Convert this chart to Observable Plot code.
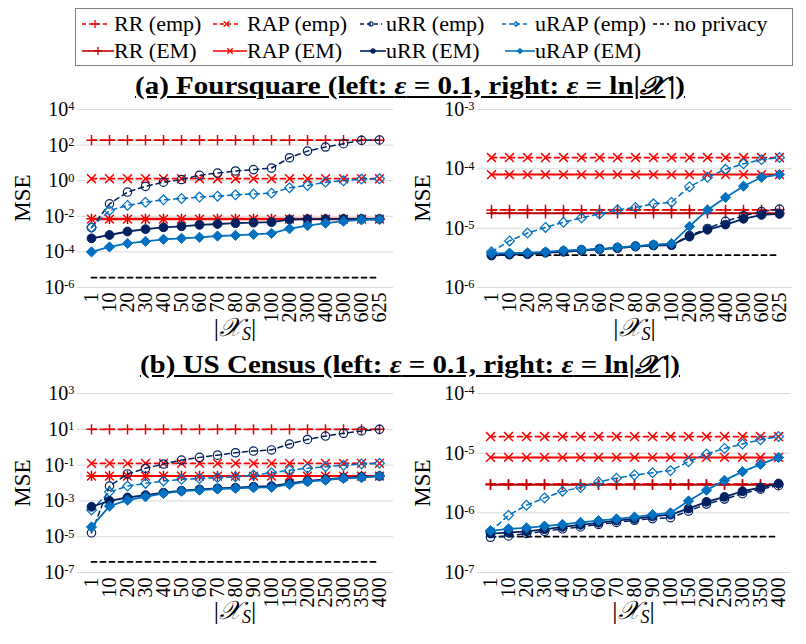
<!DOCTYPE html>
<html><head><meta charset="utf-8">
<script src="https://cdn.jsdelivr.net/npm/d3@7"></script>
<script src="https://cdn.jsdelivr.net/npm/@observablehq/plot@0.6"></script>
<style>
body{margin:0;background:#fff;}
#root{position:relative;width:806px;height:644px;overflow:hidden;font-family:"Liberation Serif","DejaVu Serif",serif;color:#000;background:#fff;}
.abs{position:absolute;}
.title{position:absolute;left:0;width:820px;text-align:center;font-weight:bold;font-size:25px;line-height:22px;text-decoration:underline;white-space:nowrap;transform:scaleX(1.16);transform-origin:410px 50%;}
.title i.X{margin-right:3px;}
.ylab{position:absolute;font-size:23px;line-height:24px;transform:translate(-50%,-50%) rotate(-90deg);white-space:nowrap;}
.xlab{position:absolute;font-size:26px;line-height:28px;transform:translate(-50%,-50%);white-space:nowrap;}
.xlab i{margin-right:1px;}
.xlab sub{font-size:18px;font-style:italic;vertical-align:-4px;}
.leg{position:absolute;font-size:22px;line-height:24px;white-space:nowrap;}
</style></head>
<body>
<div id="root"></div>
<script>
// ---------- data ----------
const catsA = ["1","10","20","30","40","50","60","70","80","90","100","200","300","400","500","600","625"];
const catsB = ["1","10","20","30","40","50","60","70","80","90","100","150","200","250","300","350","400"];
const seriesNames = ["RR (emp)","RAP (emp)","uRR (emp)","uRAP (emp)","no privacy","RR (EM)","RAP (EM)","uRR (EM)","uRAP (EM)"];

// (a) Foursquare, eps = 0.1
const fsLow_RR_emp   = [190,190,190,190,190,190,190,190,190,190,190,190,190,190,190,190,190];
const fsLow_RAP_emp  = [1.3,1.3,1.3,1.3,1.3,1.3,1.3,1.3,1.3,1.3,1.3,1.3,1.3,1.3,1.3,1.3,1.3];
const fsLow_uRR_emp  = [2.3e-3,0.05,0.23,0.48,0.83,1.17,2.0,2.7,3.5,4.2,5.1,19.5,46,78,120,186,195];
const fsLow_uRAP_emp = [2.4e-3,0.021,0.041,0.062,0.084,0.10,0.12,0.135,0.16,0.18,0.20,0.40,0.54,0.83,1.0,1.23,1.3];
const fsLow_noPriv   = [3.6e-6,3.6e-6,3.6e-6,3.6e-6,3.6e-6,3.6e-6,3.6e-6,3.6e-6,3.6e-6,3.6e-6,3.6e-6,3.6e-6,3.6e-6,3.6e-6,3.6e-6,3.6e-6,3.6e-6];
const fsLow_RR_EM    = [7.2e-3,7.2e-3,7.2e-3,7.2e-3,7.2e-3,7.2e-3,7.2e-3,7.2e-3,7.2e-3,7.2e-3,7.2e-3,7.2e-3,7.2e-3,7.2e-3,7.2e-3,7.2e-3,7.2e-3];
const fsLow_RAP_EM   = [6.9e-3,6.9e-3,6.9e-3,6.9e-3,6.9e-3,6.9e-3,6.9e-3,6.9e-3,6.9e-3,6.9e-3,6.9e-3,6.9e-3,6.9e-3,6.9e-3,6.9e-3,6.9e-3,6.9e-3];
const fsLow_uRR_EM   = [5.8e-4,8.9e-4,1.4e-3,1.9e-3,2.4e-3,2.75e-3,3.3e-3,3.7e-3,4.1e-3,4.4e-3,4.7e-3,6.6e-3,7.0e-3,7.0e-3,7.1e-3,7.1e-3,7.1e-3];
const fsLow_uRAP_EM  = [1.0e-4,1.9e-4,3.0e-4,3.9e-4,5.1e-4,5.8e-4,6.6e-4,7.8e-4,8.5e-4,9.7e-4,1.1e-3,2.0e-3,3.0e-3,4.1e-3,5.3e-3,6.3e-3,6.6e-3];

// (a) Foursquare, eps = ln|X|
const fsHigh_RR_emp   = [2.03e-5,2.03e-5,2.03e-5,2.03e-5,2.03e-5,2.03e-5,2.03e-5,2.03e-5,2.03e-5,2.03e-5,2.03e-5,2.03e-5,2.03e-5,2.03e-5,2.03e-5,2.03e-5,2.03e-5];
const fsHigh_RAP_emp  = [1.55e-4,1.55e-4,1.55e-4,1.55e-4,1.55e-4,1.55e-4,1.55e-4,1.55e-4,1.55e-4,1.55e-4,1.55e-4,1.55e-4,1.55e-4,1.55e-4,1.55e-4,1.55e-4,1.55e-4];
const fsHigh_uRR_emp  = [3.5e-6,3.6e-6,3.7e-6,3.9e-6,4.1e-6,4.3e-6,4.5e-6,4.7e-6,5.0e-6,5.2e-6,5.2e-6,7.5e-6,9.9e-6,1.3e-5,1.62e-5,1.9e-5,2.1e-5];
const fsHigh_uRAP_emp = [4.0e-6,6.1e-6,8.3e-6,1.03e-5,1.26e-5,1.49e-5,1.74e-5,2.04e-5,2.23e-5,2.57e-5,2.74e-5,5.0e-5,7.2e-5,9.8e-5,1.22e-4,1.43e-4,1.55e-4];
const fsHigh_noPriv   = [3.5e-6,3.5e-6,3.5e-6,3.5e-6,3.5e-6,3.5e-6,3.5e-6,3.5e-6,3.5e-6,3.5e-6,3.5e-6,3.5e-6,3.5e-6,3.5e-6,3.5e-6,3.5e-6,3.5e-6];
const fsHigh_RR_EM    = [1.78e-5,1.78e-5,1.78e-5,1.78e-5,1.78e-5,1.78e-5,1.78e-5,1.78e-5,1.78e-5,1.78e-5,1.78e-5,1.78e-5,1.78e-5,1.78e-5,1.78e-5,1.78e-5,1.78e-5];
const fsHigh_RAP_EM   = [8.0e-5,8.0e-5,8.0e-5,8.0e-5,8.0e-5,8.0e-5,8.0e-5,8.0e-5,8.0e-5,8.0e-5,8.0e-5,8.0e-5,8.0e-5,8.0e-5,8.0e-5,8.0e-5,8.0e-5];
const fsHigh_uRR_EM   = [3.45e-6,3.6e-6,3.65e-6,3.85e-6,4.0e-6,4.2e-6,4.4e-6,4.6e-6,4.9e-6,5.1e-6,5.2e-6,7.2e-6,9.4e-6,1.15e-5,1.44e-5,1.67e-5,1.74e-5];
const fsHigh_uRAP_EM  = [3.76e-6,3.8e-6,3.85e-6,3.98e-6,4.2e-6,4.3e-6,4.45e-6,4.75e-6,5.0e-6,5.25e-6,5.5e-6,1.07e-5,2.03e-5,3.3e-5,5.1e-5,7.2e-5,8.0e-5];

// (b) US Census, eps = 0.1
const usLow_RR_emp   = [10,10,10,10,10,10,10,10,10,10,10,10,10,10,10,10,10];
const usLow_RAP_emp  = [0.125,0.125,0.125,0.125,0.125,0.125,0.125,0.125,0.125,0.125,0.125,0.125,0.125,0.125,0.125,0.125,0.125];
const usLow_uRR_emp  = [1.65e-5,6.7e-3,0.032,0.066,0.115,0.19,0.27,0.36,0.49,0.61,0.70,1.5,2.7,4.2,6.0,8.1,10];
const usLow_uRAP_emp = [3.1e-4,3.2e-3,6.7e-3,9.5e-3,0.013,0.016,0.018,0.020,0.022,0.028,0.037,0.052,0.066,0.081,0.097,0.115,0.125];
const usLow_noPriv   = [3.9e-7,3.9e-7,3.9e-7,3.9e-7,3.9e-7,3.9e-7,3.9e-7,3.9e-7,3.9e-7,3.9e-7,3.9e-7,3.9e-7,3.9e-7,3.9e-7,3.9e-7,3.9e-7,3.9e-7];
const usLow_RR_EM    = [0.0248,0.0248,0.0248,0.0248,0.0248,0.0248,0.0248,0.0248,0.0248,0.0248,0.0248,0.0248,0.0248,0.0248,0.0248,0.0248,0.0248];
const usLow_RAP_EM   = [0.0243,0.0243,0.0243,0.0243,0.0243,0.0243,0.0243,0.0243,0.0243,0.0243,0.0243,0.0243,0.0243,0.0243,0.0243,0.0243,0.0243];
const usLow_uRR_EM   = [4.7e-4,1.0e-3,1.55e-3,2.1e-3,2.9e-3,3.7e-3,4.4e-3,5.0e-3,5.5e-3,6.2e-3,6.7e-3,9.5e-3,0.013,0.016,0.0195,0.022,0.0245];
const usLow_uRAP_EM  = [3.5e-5,5.1e-4,1.1e-3,1.7e-3,2.6e-3,3.5e-3,4.0e-3,4.6e-3,5.0e-3,5.5e-3,5.7e-3,8.3e-3,0.0118,0.0145,0.018,0.020,0.0245];

// (b) US Census, eps = ln|X|
const usHigh_RR_emp   = [3.03e-6,3.03e-6,3.03e-6,3.03e-6,3.03e-6,3.03e-6,3.03e-6,3.03e-6,3.03e-6,3.03e-6,3.03e-6,3.03e-6,3.03e-6,3.03e-6,3.03e-6,3.03e-6,3.03e-6];
const usHigh_RAP_emp  = [1.9e-5,1.9e-5,1.9e-5,1.9e-5,1.9e-5,1.9e-5,1.9e-5,1.9e-5,1.9e-5,1.9e-5,1.9e-5,1.9e-5,1.9e-5,1.9e-5,1.9e-5,1.9e-5,1.9e-5];
const usHigh_uRR_emp  = [3.9e-7,4.1e-7,4.5e-7,4.9e-7,5.4e-7,5.8e-7,6.4e-7,6.9e-7,7.5e-7,8.0e-7,8.3e-7,1.07e-6,1.4e-6,1.7e-6,2.1e-6,2.5e-6,2.85e-6];
const usHigh_uRAP_emp = [4.9e-7,9.1e-7,1.34e-6,1.78e-6,2.3e-6,2.66e-6,3.3e-6,3.8e-6,4.3e-6,4.7e-6,5.1e-6,7.2e-6,9.7e-6,1.2e-5,1.42e-5,1.68e-5,1.9e-5];
const usHigh_noPriv   = [4.0e-7,4.0e-7,4.0e-7,4.0e-7,4.0e-7,4.0e-7,4.0e-7,4.0e-7,4.0e-7,4.0e-7,4.0e-7,4.0e-7,4.0e-7,4.0e-7,4.0e-7,4.0e-7,4.0e-7];
const usHigh_RR_EM    = [2.95e-6,2.95e-6,2.95e-6,2.95e-6,2.95e-6,2.95e-6,2.95e-6,2.95e-6,2.95e-6,2.95e-6,2.95e-6,2.95e-6,2.95e-6,2.95e-6,2.95e-6,2.95e-6,2.95e-6];
const usHigh_RAP_EM   = [8.5e-6,8.5e-6,8.5e-6,8.5e-6,8.5e-6,8.5e-6,8.5e-6,8.5e-6,8.5e-6,8.5e-6,8.5e-6,8.5e-6,8.5e-6,8.5e-6,8.5e-6,8.5e-6,8.5e-6];
const usHigh_uRR_EM   = [4.5e-7,4.65e-7,4.9e-7,5.3e-7,5.8e-7,6.3e-7,6.8e-7,7.4e-7,7.9e-7,8.7e-7,9.3e-7,1.18e-6,1.53e-6,1.85e-6,2.3e-6,2.65e-6,3.1e-6];
const usHigh_uRAP_EM  = [5.0e-7,5.4e-7,5.6e-7,6.0e-7,6.4e-7,6.9e-7,7.4e-7,7.9e-7,8.5e-7,9.3e-7,1.0e-6,1.58e-6,2.4e-6,3.5e-6,4.9e-6,6.5e-6,8.5e-6];

// y-axis tick values (powers of ten)
const ticksFsLow  = [1e-6,1e-4,1e-2,1,1e2,1e4];
const ticksFsHigh = [1e-6,1e-5,1e-4,1e-3];
const ticksUsLow  = [1e-7,1e-5,1e-3,1e-1,1e1,1e3];
const ticksUsHigh = [1e-7,1e-6,1e-5,1e-4];

// ---------- styles ----------
const FONT = "'Liberation Serif','DejaVu Serif',serif";
const RED = "#ff0000", DRED = "#c00000", RED2 = "#e00000", NAVY = "#002060", BLUE = "#0070c0";
const DASH = "5,4";
const styles = {
  "no privacy": {color:"#000", dash:DASH, width:1.8},
  "RR (emp)":   {color:RED2, dash:DASH, width:1.8, symbol:"plus",  r:3.4, fill:"none", sw:1.5},
  "RAP (emp)":  {color:RED,  dash:DASH, width:1.8, symbol:"times", r:4.1, fill:"none", sw:1.5},
  "RR (EM)":    {color:DRED, dash:null, width:2,   symbol:"plus",  r:3.4, fill:"none", sw:1.5},
  "RAP (EM)":   {color:RED,  dash:null, width:2,   symbol:"times", r:4.1, fill:"none", sw:1.5},
  "uRR (emp)":  {color:NAVY, dash:DASH, width:1.5, symbol:"circle", r:4.2, fill:"none", sw:1.2},
  "uRAP (emp)": {color:BLUE, dash:DASH, width:1.5, symbol:"diamond2", r:4.4, fill:"none", sw:1.2},
  "uRR (EM)":   {color:NAVY, dash:null, width:1.8, symbol:"circle", r:4.4, fill:NAVY, sw:1},
  "uRAP (EM)":  {color:BLUE, dash:null, width:1.8, symbol:"diamond2", r:4.6, fill:BLUE, sw:1}
};
const drawOrder = ["no privacy","RR (emp)","RAP (emp)","RR (EM)","RAP (EM)","uRR (emp)","uRAP (emp)","uRR (EM)","uRAP (EM)"];

const panels = [
  {left:0,   top:95,  width:400, mt:14, mb:48, ml:77, mr:7,  cats:catsA, domain:[1e-6,1e4], ticks:ticksFsLow,
   s:{"RR (emp)":fsLow_RR_emp,"RAP (emp)":fsLow_RAP_emp,"uRR (emp)":fsLow_uRR_emp,"uRAP (emp)":fsLow_uRAP_emp,"no privacy":fsLow_noPriv,"RR (EM)":fsLow_RR_EM,"RAP (EM)":fsLow_RAP_EM,"uRR (EM)":fsLow_uRR_EM,"uRAP (EM)":fsLow_uRAP_EM}},
  {left:400, top:95,  width:406, mt:14, mb:48, ml:77, mr:14, cats:catsA, domain:[1e-6,1e-3], ticks:ticksFsHigh,
   s:{"RR (emp)":fsHigh_RR_emp,"RAP (emp)":fsHigh_RAP_emp,"uRR (emp)":fsHigh_uRR_emp,"uRAP (emp)":fsHigh_uRAP_emp,"no privacy":fsHigh_noPriv,"RR (EM)":fsHigh_RR_EM,"RAP (EM)":fsHigh_RAP_EM,"uRR (EM)":fsHigh_uRR_EM,"uRAP (EM)":fsHigh_uRAP_EM}},
  {left:0,   top:375, width:400, mt:18, mb:43, ml:77, mr:7,  cats:catsB, domain:[1e-7,1e3], ticks:ticksUsLow,
   s:{"RR (emp)":usLow_RR_emp,"RAP (emp)":usLow_RAP_emp,"uRR (emp)":usLow_uRR_emp,"uRAP (emp)":usLow_uRAP_emp,"no privacy":usLow_noPriv,"RR (EM)":usLow_RR_EM,"RAP (EM)":usLow_RAP_EM,"uRR (EM)":usLow_uRR_EM,"uRAP (EM)":usLow_uRAP_EM}},
  {left:400, top:375, width:406, mt:18, mb:43, ml:77, mr:16, cats:catsB, domain:[1e-7,1e-4], ticks:ticksUsHigh,
   s:{"RR (emp)":usHigh_RR_emp,"RAP (emp)":usHigh_RAP_emp,"uRR (emp)":usHigh_uRR_emp,"uRAP (emp)":usHigh_uRAP_emp,"no privacy":usHigh_noPriv,"RR (EM)":usHigh_RR_EM,"RAP (EM)":usHigh_RAP_EM,"uRR (EM)":usHigh_uRR_EM,"uRAP (EM)":usHigh_uRAP_EM}}
];

const root = document.getElementById("root");
const SVGNS = "http://www.w3.org/2000/svg";

function superscriptTicks(svg){
  svg.querySelectorAll("text").forEach(t => {
    const m = /^10\^(-?\d+)$/.exec(t.textContent.trim());
    if (m) {
      t.textContent = "10";
      const ts = document.createElementNS(SVGNS, "tspan");
      ts.setAttribute("dy", "-0.45em");
      ts.setAttribute("font-size", "0.62em");
      ts.textContent = m[1];
      t.appendChild(ts);
    }
  });
}

panels.forEach(p => {
  const rows = [];
  seriesNames.forEach(k => p.s[k].forEach((v, i) => rows.push({series:k, x:p.cats[i], y:v})));
  const marks = [Plot.ruleY(p.ticks, {stroke:"#d9d9d9", strokeWidth:1})];
  drawOrder.forEach(k => {
    const st = styles[k];
    const d = rows.filter(r => r.series === k);
    marks.push(Plot.line(d, {x:"x", y:"y", stroke:st.color, strokeWidth:st.width, strokeDasharray:st.dash || undefined}));
    if (st.symbol) marks.push(Plot.dot(d, {x:"x", y:"y", symbol:st.symbol, r:st.r, stroke:st.color, fill:st.fill, strokeWidth:st.sw}));
  });
  const height = 240;
  const svg = Plot.plot({
    width:p.width, height,
    marginTop:p.mt, marginBottom:p.mb, marginLeft:p.ml, marginRight:p.mr,
    style:{fontFamily:FONT, fontSize:"20px", color:"#000", background:"transparent", overflow:"visible"},
    x:{type:"point", domain:p.cats, padding:0.45, tickRotate:-90, tickSize:0, tickPadding:5, label:null},
    y:{type:"log", domain:p.domain, ticks:p.ticks, tickFormat:d => "10^" + Math.round(Math.log10(d)), tickSize:0, tickPadding:3, label:null},
    marks
  });
  superscriptTicks(svg);
  svg.style.position = "absolute";
  svg.style.left = p.left + "px";
  svg.style.top = p.top + "px";
  root.appendChild(svg);

  const ylab = document.createElement("div");
  ylab.className = "ylab";
  ylab.textContent = "MSE";
  ylab.style.left = (p.left + 23) + "px";
  ylab.style.top = (p.top + p.mt + (height - p.mt - p.mb) / 2) + "px";
  root.appendChild(ylab);

  const xlab = document.createElement("div");
  xlab.className = "xlab";
  xlab.innerHTML = "|<i>𝒳</i><sub>S</sub>|";
  xlab.style.left = (p.left + p.ml + (p.width - p.ml - p.mr) / 2) + "px";
  xlab.style.top = (p.top < 200 ? 331 : 614) + "px";
  root.appendChild(xlab);
});

// titles
[["(a) Foursquare", 75], ["(b) US Census", 354]].forEach(([name, top]) => {
  const t = document.createElement("div");
  t.className = "title";
  t.style.top = top + "px";
  t.innerHTML = name + " (left: <i>ε</i> = 0.1, right: <i>ε</i> = ln|<i class=\"X\">𝒳</i>|)";
  root.appendChild(t);
});

// legend
const box = document.createElement("div");
box.className = "abs";
Object.assign(box.style, {left:"75px", top:"8px", width:"718px", height:"58px", border:"1px solid #808080", boxSizing:"border-box"});
root.appendChild(box);
const legendPos = {
  "RR (emp)":   {row:0, x0:82,  x1:108, tx:114},
  "RAP (emp)":  {row:0, x0:213, x1:240, tx:247},
  "uRR (emp)":  {row:0, x0:360, x1:382, tx:386},
  "uRAP (emp)": {row:0, x0:502, x1:530, tx:535},
  "no privacy": {row:0, x0:653, x1:669, tx:674},
  "RR (EM)":    {row:1, x0:82,  x1:114, tx:114},
  "RAP (EM)":   {row:1, x0:213, x1:247, tx:247},
  "uRR (EM)":   {row:1, x0:360, x1:386, tx:386},
  "uRAP (EM)":  {row:1, x0:505, x1:535, tx:535}
};
const rowY = [24, 51];
const lsvg = document.createElementNS(SVGNS, "svg");
lsvg.setAttribute("width", 806); lsvg.setAttribute("height", 70);
Object.assign(lsvg.style, {position:"absolute", left:"0px", top:"0px"});
root.appendChild(lsvg);
const symMap = {plus:d3.symbolPlus, times:d3.symbolTimes, circle:d3.symbolCircle, diamond2:d3.symbolDiamond2};
seriesNames.forEach(k => {
  const st = styles[k], lp = legendPos[k], y = rowY[lp.row];
  const g = d3.select(lsvg).append("g");
  g.append("line").attr("x1", lp.x0).attr("x2", lp.x1).attr("y1", y).attr("y2", y)
    .attr("stroke", st.color).attr("stroke-width", 1.6).attr("stroke-dasharray", st.dash ? "4,3" : null);
  if (st.symbol) {
    const s = st.symbol === "circle" || st.symbol === "diamond2" ? 14 : 22;
    g.append("path").attr("d", d3.symbol(symMap[st.symbol], s)())
      .attr("transform", `translate(${(lp.x0 + lp.x1) / 2},${y})`)
      .attr("stroke", st.color).attr("fill", st.fill).attr("stroke-width", 1.3);
  }
  const t = document.createElement("div");
  t.className = "leg";
  t.textContent = k;
  t.style.left = lp.tx + "px";
  t.style.top = (y - 12) + "px";
  root.appendChild(t);
});
</script>
</body></html>
